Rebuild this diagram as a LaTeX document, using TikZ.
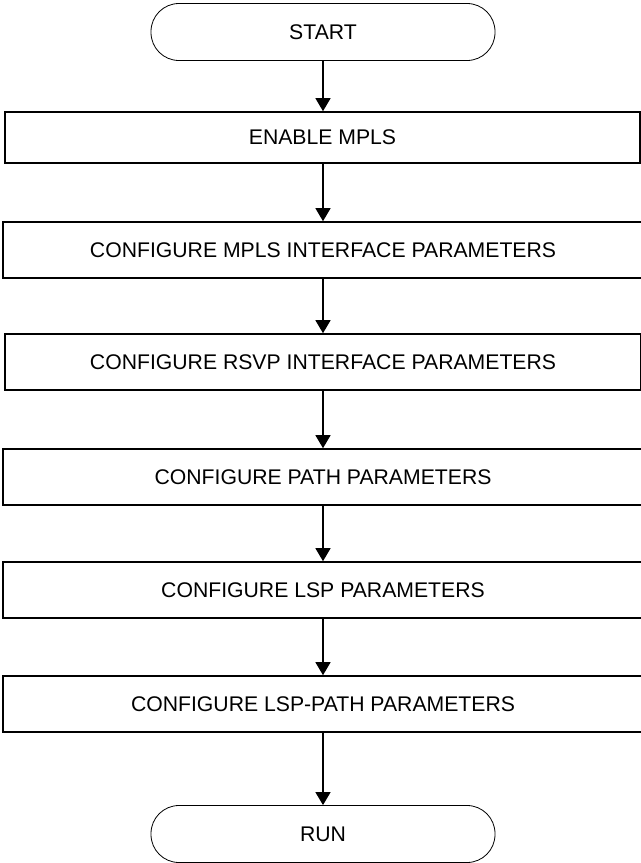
\documentclass[tikz,border=0pt]{standalone}
\usepackage{fontspec}
\setmainfont{Liberation Sans}
\usetikzlibrary{arrows.meta}
\newcommand{\flowfont}{\fontsize{10.6}{12.7}\selectfont}
\tikzset{
  termbox/.style={draw, line width=0.4pt, rounded corners=14pt, minimum width=172pt, minimum height=28.5pt, font=\flowfont},
  stepbox/.style={draw, line width=0.8pt, minimum height=28pt, font=\flowfont},
  flowarrow/.style={line width=0.65pt, -{Triangle[width=7.5pt,length=6.5pt]}}
}
\begin{document}
\begin{tikzpicture}[x=0.5pt,y=-0.5pt]
	\useasboundingbox (0,0) rectangle (641,863);
	\node[termbox] (start) at (323,32) {START};
	\node[stepbox, minimum width=317.5pt, minimum height=25.5pt] (mpls) at (322.5,137.5) {ENABLE MPLS};
	\node[stepbox, minimum width=320pt] (mplsif) at (323,250) {CONFIGURE MPLS INTERFACE PARAMETERS};
	\node[stepbox, minimum width=318pt] (rsvpif) at (323,362) {CONFIGURE RSVP INTERFACE PARAMETERS};
	\node[stepbox, minimum width=320pt] (path) at (323,477) {CONFIGURE PATH PARAMETERS};
	\node[stepbox, minimum width=320pt] (lsp) at (323,590) {CONFIGURE LSP PARAMETERS};
	\node[stepbox, minimum width=320pt] (lsppath) at (323,704) {CONFIGURE LSP-PATH PARAMETERS};
	\node[termbox] (run) at (323,834) {RUN};
	\draw[flowarrow] (start.south) -- (start.south |- mpls.north);
	\draw[flowarrow] (mpls.south -| start.south) -- (mplsif.north);
	\draw[flowarrow] (mplsif.south) -- (rsvpif.north);
	\draw[flowarrow] (rsvpif.south) -- (path.north);
	\draw[flowarrow] (path.south) -- (lsp.north);
	\draw[flowarrow] (lsp.south) -- (lsppath.north);
	\draw[flowarrow] (lsppath.south) -- (run.north);
\end{tikzpicture}
\end{document}
